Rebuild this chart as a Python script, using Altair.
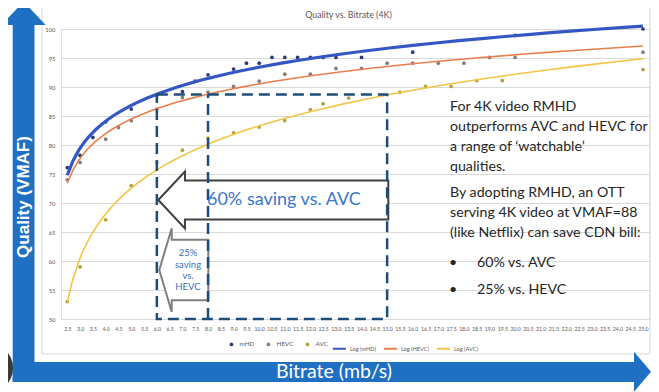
import altair as alt
import pandas as pd

# ---------------- data ----------------
bitrate_ticks = [2.5, 3.0, 3.5, 4.0, 4.5, 5.0, 5.5, 6.0, 6.5, 7.0, 7.5, 8.0, 8.5, 9.0, 9.5,
                 10.0, 10.5, 11.0, 11.5, 12.0, 12.5, 13.0, 13.5, 14.0, 14.5, 15.0, 15.5,
                 16.0, 16.5, 17.0, 17.5, 18.0, 18.5, 19.0, 19.5, 20.0, 20.5, 21.0, 21.5,
                 22.0, 22.5, 23.0, 23.5, 24.0, 24.5, 25.0]
vmaf_ticks = [50, 55, 60, 65, 70, 75, 80, 85, 90, 95, 100]

series_names = ["mHD", "HEVC", "AVC"]
fit_names = ["Log (mHD)", "Log (HEVC)", "Log (AVC)"]

mhd_rate = [2.5, 3.0, 3.5, 4.0, 5.0, 6.0, 7.0, 7.5, 8.0, 9.0, 9.5, 10.0, 10.5, 11.0,
            11.5, 12.0, 12.5, 13.0, 14.0, 16.0, 20.0, 25.0]
mhd_vmaf = [76.1, 78.2, 81.3, 84.0, 86.2, 88.6, 89.2, 91.0, 92.1, 93.1, 94.1, 94.1, 95.1, 95.1,
            95.1, 95.1, 95.1, 95.1, 95.1, 96.0, 98.9, 100.0]

hevc_rate = [2.5, 3.0, 4.0, 4.5, 5.0, 6.0, 7.0, 8.0, 9.0, 10.0, 11.0, 12.0, 13.0, 14.0,
             15.0, 16.0, 17.0, 18.0, 19.0, 20.0, 25.0]
hevc_vmaf = [74.0, 77.0, 81.0, 83.0, 84.2, 86.2, 88.2, 89.1, 90.1, 91.0, 92.2, 92.2, 93.2, 93.2,
             94.1, 94.1, 94.1, 94.1, 95.1, 95.1, 96.0]

avc_rate = [2.5, 3.0, 4.0, 5.0, 6.0, 7.0, 8.0, 9.0, 10.0, 11.0, 12.0, 12.5, 13.5, 15.5,
            16.5, 17.5, 18.5, 19.5, 25.0]
avc_vmaf = [53.0, 59.0, 67.1, 73.0, 77.0, 79.1, 81.2, 82.1, 83.1, 84.2, 86.1, 87.1, 88.1, 89.1,
            90.1, 90.1, 91.1, 91.1, 93.0]

# annotation values: bitrate each codec needs for VMAF ~88
target_vmaf = 88.7
rate_mhd, rate_hevc, rate_avc = 6.0, 8.0, 15.0

chart_title = "Quality vs. Bitrate (4K)"
para1 = ["For 4K video RMHD", "outperforms AVC and HEVC for", "a range of \u2018watchable\u2019", "qualities."]
para2 = ["By adopting RMHD, an OTT", "serving 4K video at VMAF=88", "(like Netflix) can save CDN bill:"]
bullets = ["60% vs. AVC", "25% vs. HEVC"]

# ---------------- styling ----------------
point_colors = ["#2b3c78", "#8c7d72", "#b3a23a"]
line_colors = ["#3557c4", "#ea7f4e", "#f3c445"]
BLUE = "#1f6fc2"
NAVY = "#1d4d7a"
GREY = "#595959"
FONT = "Lato"

W, H = 588.5, 290
PAD = {"left": 52.9, "top": 21, "right": 1.6, "bottom": 73}

rows = []
for name, rates, vals in [("mHD", mhd_rate, mhd_vmaf), ("HEVC", hevc_rate, hevc_vmaf), ("AVC", avc_rate, avc_vmaf)]:
    for r, v in zip(rates, vals):
        rows.append({"series": name, "bitrate": r, "vmaf": v})
points_df = pd.DataFrame(rows)

one = pd.DataFrame({"k": [0]})

x_scale = alt.Scale(domain=[2.25, 25.25], nice=False, zero=False)
y_scale = alt.Scale(domain=[50, 100], nice=False, zero=False)

x_axis = alt.Axis(values=bitrate_ticks, format=".1f", labelAngle=0, labelOverlap=False,
                  labelFontSize=5.2, labelColor=GREY, labelFont=FONT, labelPadding=7,
                  ticks=False, tickSize=0, domain=False, grid=False, title=None, labelFlush=False)
y_axis = alt.Axis(values=vmaf_ticks, labelFontSize=5.8, labelColor=GREY, labelFont=FONT,
                  labelPadding=6, ticks=False, tickSize=0, domain=False, grid=True,
                  gridColor="#d9d9d9", gridWidth=1, title=None)

pt_legend = alt.Legend(orient="none", legendX=167.4, legendY=312, direction="horizontal",
                       title=None, symbolType="circle", symbolSize=14, labelFontSize=6.3,
                       labelColor=GREY, labelFont=FONT, labelOffset=5, columnPadding=10, padding=0)
line_legend = alt.Legend(orient="none", legendX=271, legendY=312, direction="horizontal",
                         title=None, symbolType="stroke", symbolSize=169, symbolStrokeWidth=2,
                         labelFontSize=5.6, labelColor=GREY, labelFont=FONT, labelOffset=3,
                         columnPadding=3, padding=0)

# ---------------- decorations (slide frame) ----------------
panel = alt.Chart(one).mark_rect(filled=False, stroke="#d9d9d9", strokeWidth=1).encode(
    x=alt.value(-18.9), x2=alt.value(589.1), y=alt.value(-28), y2=alt.value(325))
vshaft = alt.Chart(one).mark_rect(color=BLUE).encode(
    x=alt.value(-48.2), x2=alt.value(-26.4), y=alt.value(-5), y2=alt.value(353))
hshaft = alt.Chart(one).mark_rect(color=BLUE).encode(
    x=alt.value(-48.2), x2=alt.value(574), y=alt.value(333), y2=alt.value(353))
vhead = alt.Chart(one).mark_point(shape="M-1,0.526L0,-0.526L1,0.526Z", size=1962, filled=True,
                                  color=BLUE, opacity=1, strokeWidth=0).encode(
    x=alt.value(-37.3), y=alt.value(-15.65))
hhead = alt.Chart(one).mark_point(shape="M-0.425,-1L0.425,0L-0.425,1Z", size=1600, filled=True,
                                  color=BLUE, opacity=1, strokeWidth=0).encode(
    x=alt.value(581.6), y=alt.value(342.7))
blob = alt.Chart(one).mark_point(shape="circle", size=2500, filled=True, color="#3a3a3a",
                                 opacity=1, strokeWidth=0).encode(
    x=alt.value(-72.9), y=alt.value(339))
ytitle = alt.Chart(one).mark_text(text="Quality (VMAF)", angle=270, fontSize=17, fontWeight="bold",
                                  color="white", font="Liberation Sans", align="center",
                                  baseline="middle").encode(
    x=alt.value(-37.3), y=alt.value(168))
xtitle = alt.Chart(one).mark_text(text="Bitrate (mb/s)", fontSize=19.5, color="white", font=FONT,
                                  align="center", baseline="middle").encode(
    x=alt.value(273.1), y=alt.value(343))
title = alt.Chart(one).mark_text(text=chart_title, fontSize=8.8, color=GREY, font=FONT,
                                 align="center", baseline="middle").encode(
    x=alt.value(287.6), y=alt.value(-14))

# ---------------- data layers ----------------
pts = alt.Chart(points_df).mark_point(filled=True, size=14, opacity=1).encode(
    x=alt.X("bitrate:Q", scale=x_scale, axis=x_axis),
    y=alt.Y("vmaf:Q", scale=y_scale, axis=y_axis),
    color=alt.Color("series:N", scale=alt.Scale(domain=series_names, range=point_colors), legend=pt_legend),
)

fits = alt.Chart(points_df).transform_calculate(
    idx="2 * datum.bitrate - 4"
).transform_regression(
    "idx", "vmaf", groupby=["series"], method="log", extent=[1, 46]
).transform_calculate(
    bitrate="(datum.idx + 4) / 2", fit="'Log (' + datum.series + ')'"
).mark_line().encode(
    x=alt.X("bitrate:Q", scale=x_scale, axis=x_axis),
    y=alt.Y("vmaf:Q", scale=y_scale, axis=y_axis),
    color=alt.Color("fit:N", scale=alt.Scale(domain=fit_names, range=line_colors), legend=line_legend),
    strokeWidth=alt.condition("datum.series == 'mHD'", alt.value(3.2), alt.value(1.6)),
)

# ---------------- annotations ----------------
big_arrow = alt.Chart(one).mark_point(
    shape="M-1,0L-0.768,-0.248L-0.768,-0.17L1,-0.17L1,0.17L-0.768,0.17L-0.768,0.248Z",
    size=52900, filled=True, fill="white", stroke="#404040", strokeWidth=2, opacity=1).encode(
    x=alt.value(212.4), y=alt.value(171))
small_arrow = alt.Chart(one).mark_point(
    shape="M-0.588,0L-0.29,-1L-0.29,-0.728L0.588,-0.728L0.588,0.728L-0.29,0.728L-0.29,1Z",
    size=6956, filled=True, fill="white", stroke="#7f7f7f", strokeWidth=2, opacity=1).encode(
    x=alt.value(122.9), y=alt.value(241))

box_df = pd.DataFrame({"bitrate": [rate_mhd], "bitrate2": [rate_avc], "vmaf": [50], "vmaf2": [target_vmaf]})
rule_df = pd.DataFrame({"bitrate": [rate_hevc], "vmaf": [50], "vmaf2": [target_vmaf]})
box = alt.Chart(box_df).mark_rect(filled=False, stroke=NAVY, strokeWidth=2.5, strokeDash=[11, 6]).encode(
    x=alt.X("bitrate:Q", scale=x_scale, axis=x_axis), x2="bitrate2",
    y=alt.Y("vmaf:Q", scale=y_scale, axis=y_axis), y2="vmaf2")
rule = alt.Chart(rule_df).mark_rule(stroke=NAVY, strokeWidth=2.5, strokeDash=[11, 6]).encode(
    x=alt.X("bitrate:Q", scale=x_scale, axis=x_axis),
    y=alt.Y("vmaf:Q", scale=y_scale, axis=y_axis), y2="vmaf2")

big_text = alt.Chart(one).mark_text(text="60% saving vs. AVC", fontSize=18, color="#3a78c9", font=FONT,
                                    align="center", baseline="middle").encode(
    x=alt.value(223), y=alt.value(171))
small_text = alt.Chart(one).mark_text(text=["25%", "saving", "vs.", "HEVC"], fontSize=9.5, lineHeight=11.3,
                                      color="#3a6fb8", font=FONT, align="center", baseline="middle").encode(
    x=alt.value(127.1), y=alt.value(224.3))

p1 = alt.Chart(one).mark_text(text=para1, fontSize=14.2, lineHeight=19.9, color="#262626", font=FONT,
                              align="left", baseline="middle").encode(x=alt.value(389.1), y=alt.value(78))
p2 = alt.Chart(one).mark_text(text=para2, fontSize=14.2, lineHeight=20.15, color="#262626", font=FONT,
                              align="left", baseline="middle").encode(x=alt.value(389.1), y=alt.value(164))
p3 = alt.Chart(one).mark_text(text=bullets, fontSize=14.2, lineHeight=27.3, color="#262626", font=FONT,
                              align="left", baseline="middle").encode(x=alt.value(416.1), y=alt.value(233.7))
p3b = alt.Chart(one).mark_text(text=["\u2022", "\u2022"], fontSize=14.2, lineHeight=27.3, color="#262626",
                               font=FONT, align="center", baseline="middle").encode(
    x=alt.value(392.1), y=alt.value(233.7))

chart = alt.layer(
    panel, vshaft, hshaft, vhead, hhead, blob, ytitle, xtitle, title,
    pts, fits, big_arrow, small_arrow, box, rule, big_text, small_text, p1, p2, p3, p3b
).properties(
    width=W, height=H,
    autosize=alt.AutoSizeParams(type="none"),
    padding=PAD,
).resolve_scale(color="independent").configure_view(strokeWidth=0).configure(font=FONT)

chart.save("out.html", embed_options={"renderer": "svg", "actions": False})
